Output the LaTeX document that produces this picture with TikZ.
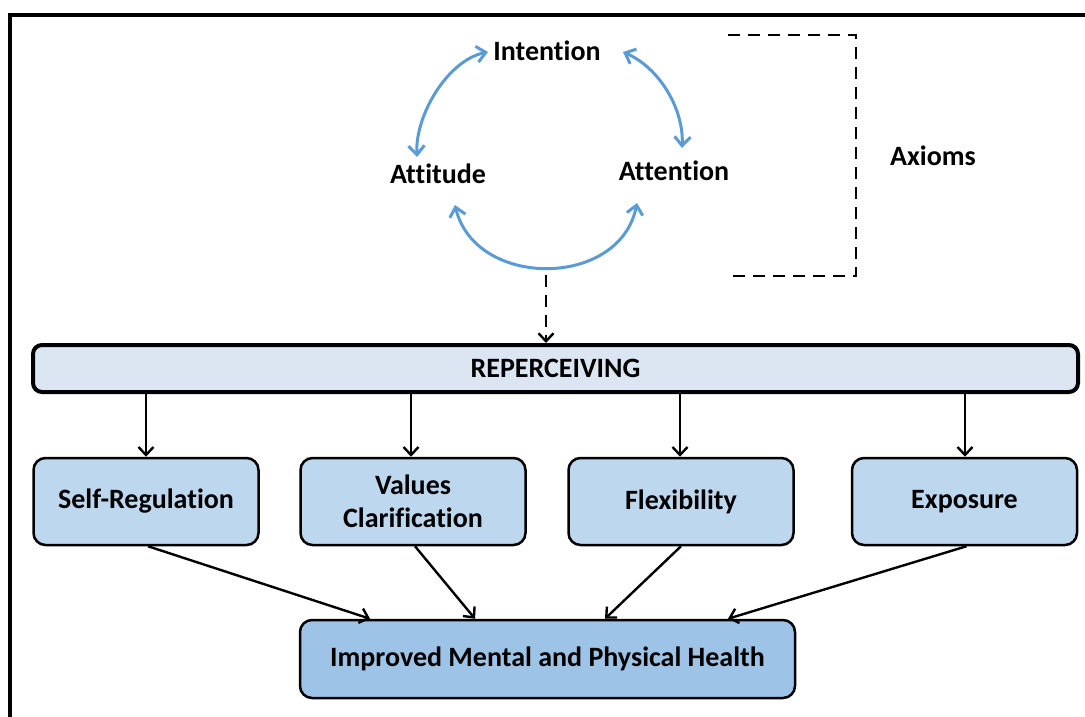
\documentclass[tikz,border=0pt]{standalone}
\usepackage{fontspec}
\setmainfont{Carlito}[Ligatures=NoCommon]
\usetikzlibrary{arrows.meta}
\definecolor{arcblue}{RGB}{91,155,213}
\definecolor{repfill}{RGB}{220,230,242}
\definecolor{midfill}{RGB}{189,215,238}
\definecolor{botfill}{RGB}{157,195,230}
\tikzset{
  lbl/.style={font=\fontsize{28}{31}\selectfont\bfseries, inner sep=0pt},
  bluearr/.style={draw=arcblue, line width=3pt, {Straight Barb[length=9pt,width=16pt]}-{Straight Barb[length=9pt,width=16pt]}},
  blackarr/.style={draw=black, line width=2.4pt, -{Straight Barb[length=8pt,width=15pt]}},
  repbox/.style={draw=black, line width=4pt, rounded corners=9pt, fill=repfill, minimum width=1045pt, minimum height=47pt, font=\fontsize{28}{31}\selectfont\bfseries},
  midbox/.style={draw=black, line width=2.5pt, rounded corners=12pt, fill=midfill, minimum width=225pt, minimum height=87pt, align=center, font=\fontsize{28}{33}\selectfont\bfseries},
  botbox/.style={draw=black, line width=2.5pt, rounded corners=12pt, fill=botfill, minimum width=495pt, minimum height=78pt, font=\fontsize{28}{31}\selectfont\bfseries},
}
\begin{document}
\begin{tikzpicture}[x=1pt,y=-1pt]
\useasboundingbox (0,0) rectangle (1085,717);
% frame
\draw[line width=4pt] (10,717) -- (10,15) -- (1085,15);
% cycle labels
\node[lbl] (intention) at (547,51) {Intention};
\node[lbl] (attitude) at (438,174) {Attitude};
\node[lbl] (attention) at (674,171) {Attention};
\node[lbl] (axioms) at (933,156) {Axioms};
% blue arcs
\draw[bluearr] ([shift={(-59pt,-1pt)}]intention.center) .. controls (448,60) and (415,115) .. ([shift={(-21pt,17pt)}]attitude.center);
\draw[bluearr] ([shift={(76pt,-1pt)}]intention.center) .. controls (660,68) and (684,110) .. ([shift={(8pt,23pt)}]attention.center);
\draw[bluearr] ([shift={(17pt,-31pt)}]attitude.center) .. controls (475,289) and (620,289) .. ([shift={(-37pt,-32pt)}]attention.center);
% dashed bracket
\draw[line width=2pt, dash pattern=on 12pt off 8pt] (728,35) -- (856,35) -- (856,276) -- (728,276);
% reperceiving
\node[repbox] (reperc) at (555.5,368.5) {REPERCEIVING};
\coordinate (cyc) at (546,275);
\draw[blackarr, dash pattern=on 12pt off 8pt] (cyc) -- (reperc.north -| cyc);
% middle boxes
\node[midbox] (sr) at (146,501.5) {Self-Regulation};
\node[midbox] (vc) at (413,501.5) {Values\\Clarification};
\node[midbox] (flex) at (681,501.5) {Flexibility};
\node[midbox] (exp) at (964.5,501.5) {Exposure};
\foreach \n/\xx in {sr/146, vc/411, flex/680, exp/965}{
  \draw[blackarr] (reperc.south -| \xx,0) -- (\n.north -| \xx,0);
}
% bottom box
\node[botbox] (health) at (547.5,659) {Improved Mental and Physical Health};
\draw[blackarr] ([xshift=2pt]sr.south) -- (health.north -| 370,0);
\draw[blackarr] ([xshift=2pt]vc.south) -- (health.north -| 475,0);
\draw[blackarr] (flex.south) -- (health.north -| 605,0);
\draw[blackarr] ([xshift=2pt]exp.south) -- (health.north -| 728,0);
\end{tikzpicture}
\end{document}
